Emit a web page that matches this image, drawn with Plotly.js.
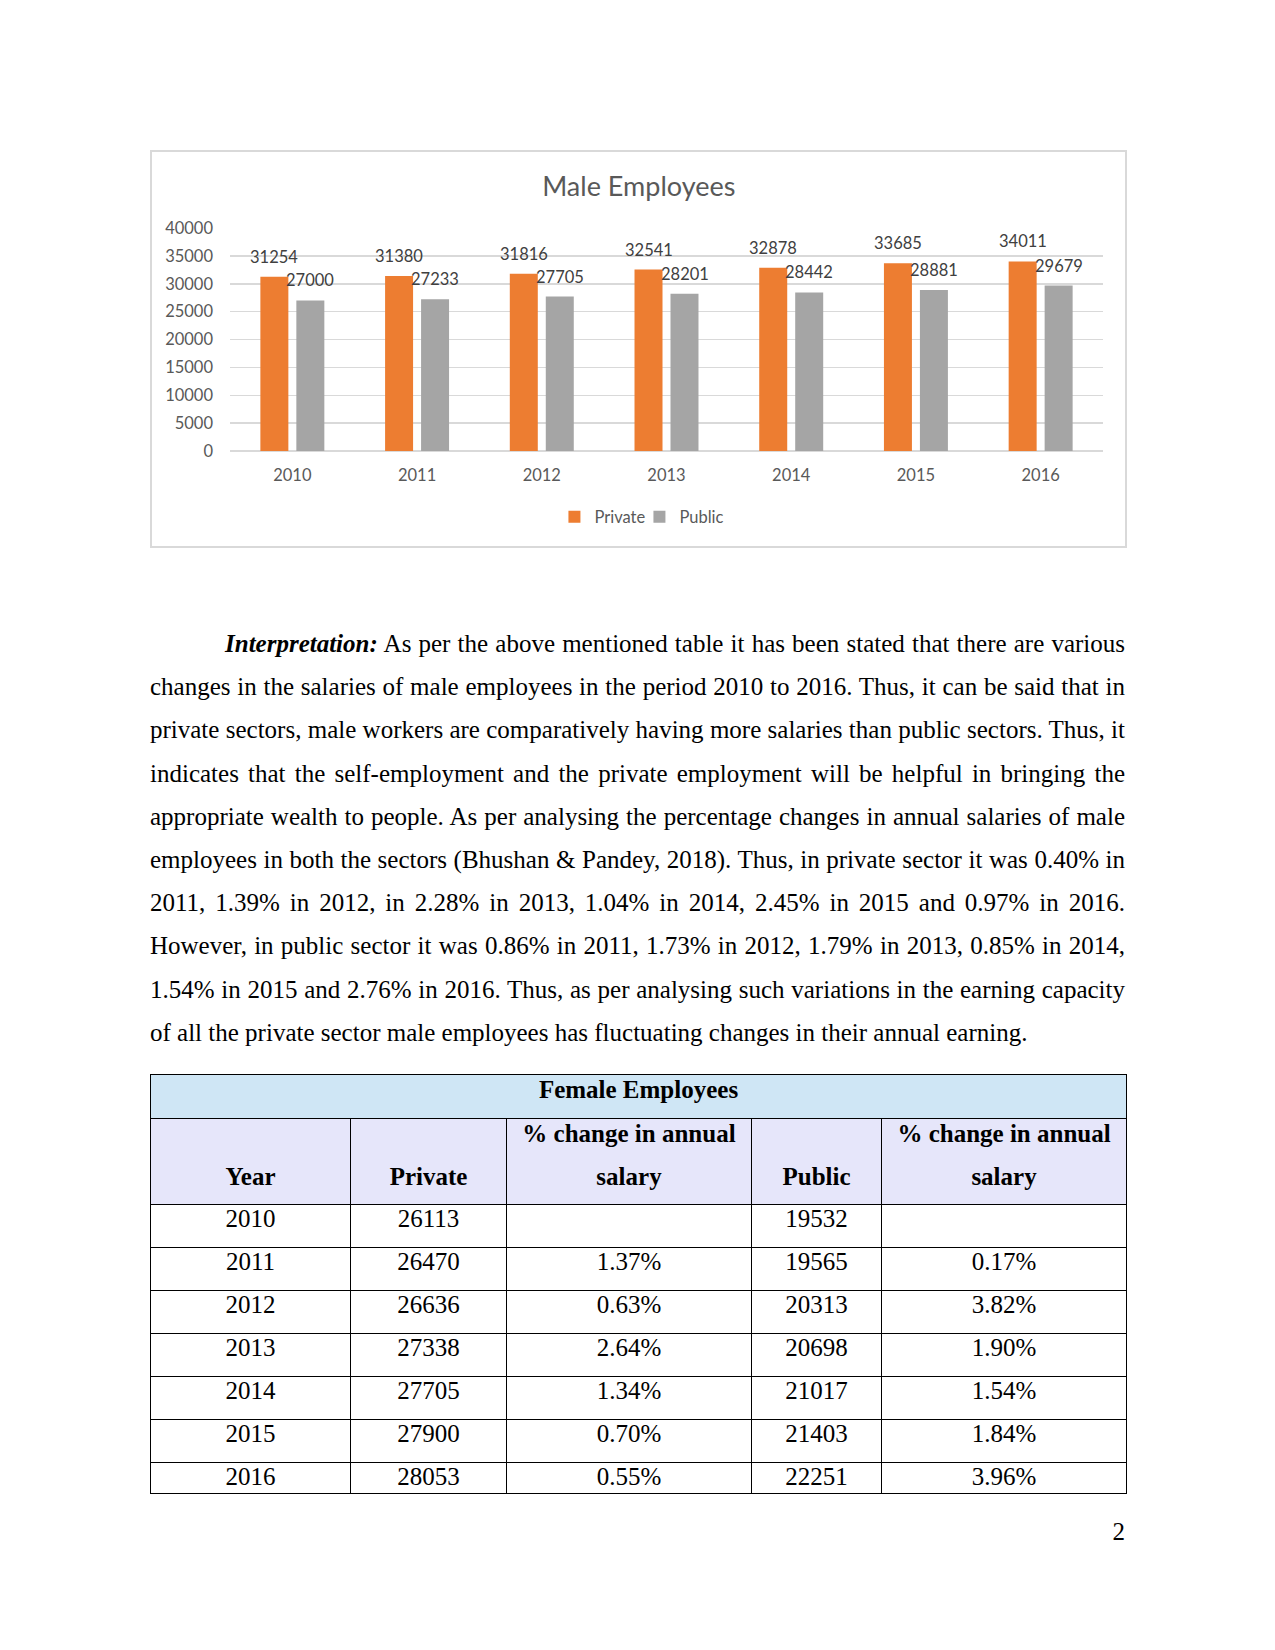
<!DOCTYPE html>
<html><head><meta charset="utf-8">
<script src="https://cdn.plot.ly/plotly-3.0.1.min.js"></script>
<style>
html,body{margin:0;padding:0;background:#fff;}
#page{position:relative;width:1275px;height:1650px;overflow:hidden;font-family:"Liberation Serif","Times New Roman",serif;color:#000;}
#chart{position:absolute;left:150px;top:150px;width:977px;height:398px;}
#chartBorder{position:absolute;left:150px;top:150px;width:977px;height:398px;box-sizing:border-box;border:2px solid #D9D9D9;pointer-events:none;}
#para{position:absolute;left:150px;top:622px;width:975px;font-size:25px;}
#para .ln{height:43.2px;line-height:43.2px;text-align:justify;text-align-last:justify;}
#para .ln.last{text-align:left;text-align-last:left;}
#para .ln.first{text-indent:75px;}
#tbl{position:absolute;left:150px;top:1074px;width:976px;border-collapse:collapse;table-layout:fixed;font-size:25px;}
#tbl td{border:1px solid #000;padding:0;text-align:center;vertical-align:top;line-height:28px;overflow:hidden;}
#tbl tr.title td{background:#CFE6F5;font-weight:bold;padding-top:1px;}
#tbl tr.hdr td{background:#E6E6FA;font-weight:bold;vertical-align:bottom;line-height:43px;padding:0;}
#tbl tr.hdr td div{margin-top:-8px;margin-bottom:6px;}
#pnum{position:absolute;left:1000px;width:125px;top:1518px;text-align:right;font-size:25px;line-height:28px;}
</style>
</head>
<body>
<div id="page">
  <div id="chart"></div>
  <div id="chartBorder"></div>
  <div id="para">
    <div class="ln first"><b><i>Interpretation:</i></b> As per the above mentioned table it has been stated that there are various</div>
    <div class="ln">changes in the salaries of male employees in the period 2010 to 2016. Thus, it can be said that in</div>
    <div class="ln">private sectors, male workers are comparatively having more salaries than public sectors. Thus, it</div>
    <div class="ln">indicates that the self-employment and the private employment will be helpful in bringing the</div>
    <div class="ln">appropriate wealth to people. As per analysing the percentage changes in annual salaries of male</div>
    <div class="ln">employees in both the sectors (Bhushan &amp; Pandey, 2018). Thus, in private sector it was 0.40% in</div>
    <div class="ln">2011, 1.39% in 2012, in 2.28% in 2013, 1.04% in 2014, 2.45% in 2015 and 0.97% in 2016.</div>
    <div class="ln">However, in public sector it was 0.86% in 2011, 1.73% in 2012, 1.79% in 2013, 0.85% in 2014,</div>
    <div class="ln">1.54% in 2015 and 2.76% in 2016. Thus, as per analysing such variations in the earning capacity</div>
    <div class="ln last">of all the private sector male employees has fluctuating changes in their annual earning.</div>
  </div>
  <table id="tbl"></table>
  <div id="pnum">2</div>
</div>
<script>
// ---- Male employees chart data ----
const years = ["2010", "2011", "2012", "2013", "2014", "2015", "2016"];
const privateMale = [31254, 31380, 31816, 32541, 32878, 33685, 34011];
const publicMale = [27000, 27233, 27705, 28201, 28442, 28881, 29679];
const yTickVals = [0, 5000, 10000, 15000, 20000, 25000, 30000, 35000, 40000];
const seriesNames = ["Private", "Public"];
const chartTitle = "Male Employees";

// ---- Female employees table data ----
const tableTitle = "Female Employees";
const tableHeaders = ["Year", "Private", "% change in annual salary", "Public", "% change in annual salary"];
const femaleYears = ["2010", "2011", "2012", "2013", "2014", "2015", "2016"];
const femalePrivate = [26113, 26470, 26636, 27338, 27705, 27900, 28053];
const femalePrivateChange = [null, 1.37, 0.63, 2.64, 1.34, 0.70, 0.55];
const femalePublic = [19532, 19565, 20313, 20698, 21017, 21403, 22251];
const femalePublicChange = [null, 0.17, 3.82, 1.90, 1.54, 1.84, 3.96];

const chartFont = "Lato, 'Open Sans', sans-serif";
const colors = ["#ED7D31", "#A5A5A5"];

const traces = [
  {type: "bar", name: seriesNames[0], x: years, y: privateMale, marker: {color: colors[0]}, hoverinfo: "none"},
  {type: "bar", name: seriesNames[1], x: years, y: publicMale, marker: {color: colors[1]}, hoverinfo: "none"}
];

const annotations = [];
years.forEach(function (yr, i) {
  annotations.push({x: i, y: privateMale[i], xref: "x", yref: "y", text: String(privateMale[i]),
    showarrow: false, xshift: -18, yshift: 20, yanchor: "middle", xanchor: "center",
    font: {family: chartFont, size: 16.5, color: "#404040"}});
  annotations.push({x: i, y: publicMale[i], xref: "x", yref: "y", text: String(publicMale[i]),
    showarrow: false, xshift: 18, yshift: 20, yanchor: "middle", xanchor: "center",
    font: {family: chartFont, size: 16.5, color: "#404040"}});
});

const layout = {
  width: 977, height: 398,
  margin: {l: 80, r: 24, t: 78, b: 97, pad: 0},
  paper_bgcolor: "#ffffff", plot_bgcolor: "#ffffff",
  title: {text: chartTitle, font: {family: chartFont, size: 27, color: "#595959"},
    xref: "container", yref: "container", x: 0.5003, xanchor: "center", y: 0.909, yanchor: "middle"},
  barmode: "group", bargap: 0.423, bargroupgap: 0.222,
  xaxis: {type: "category", showgrid: false, showline: false, zeroline: false, ticks: "",
    tickfont: {family: chartFont, size: 16.5, color: "#595959"}, ticklabelstandoff: 12, fixedrange: true},
  yaxis: {range: [0, 40000], tickvals: yTickVals, ticktext: yTickVals.map(String), showgrid: true,
    gridcolor: "#D9D9D9", gridwidth: 1.5, zeroline: true, zerolinecolor: "#D9D9D9", zerolinewidth: 1.5,
    showline: false, ticks: "", tickfont: {family: chartFont, size: 16.5, color: "#595959"},
    ticklabelstandoff: 16, fixedrange: true},
  showlegend: true,
  legend: {orientation: "h", x: 0.469, xanchor: "center", y: -0.296, yanchor: "middle",
    entrywidth: 40, entrywidthmode: "pixels",
    font: {family: chartFont, size: 16.5, color: "#595959"}, bgcolor: "rgba(0,0,0,0)"},
  annotations: annotations
};

Plotly.newPlot("chart", traces, layout, {staticPlot: true, displayModeBar: false});

// ---- Build the table from the arrays ----
(function () {
  const tbl = document.getElementById("tbl");
  const colWidths = [200, 156, 245, 130, 245];
  const cg = document.createElement("colgroup");
  colWidths.forEach(function (w) { const c = document.createElement("col"); c.style.width = w + "px"; cg.appendChild(c); });
  tbl.appendChild(cg);
  const tb = document.createElement("tbody");
  let tr = document.createElement("tr"); tr.className = "title"; tr.style.height = "44px";
  let td = document.createElement("td"); td.colSpan = tableHeaders.length; td.textContent = tableTitle; tr.appendChild(td); tb.appendChild(tr);
  tr = document.createElement("tr"); tr.className = "hdr"; tr.style.height = "86px";
  tableHeaders.forEach(function (h) {
    const c = document.createElement("td"); const d = document.createElement("div"); d.textContent = h; c.appendChild(d); tr.appendChild(c);
  });
  tb.appendChild(tr);
  const fmt = function (v) { return v === null ? "" : v.toFixed(2) + "%"; };
  femaleYears.forEach(function (yr, i) {
    const r = document.createElement("tr");
    r.style.height = (i === femaleYears.length - 1 ? 31 : 43) + "px";
    [yr, String(femalePrivate[i]), fmt(femalePrivateChange[i]), String(femalePublic[i]), fmt(femalePublicChange[i])].forEach(function (v) {
      const c = document.createElement("td"); c.textContent = v; r.appendChild(c);
    });
    tb.appendChild(r);
  });
  tbl.appendChild(tb);
})();
</script>
</body></html>
